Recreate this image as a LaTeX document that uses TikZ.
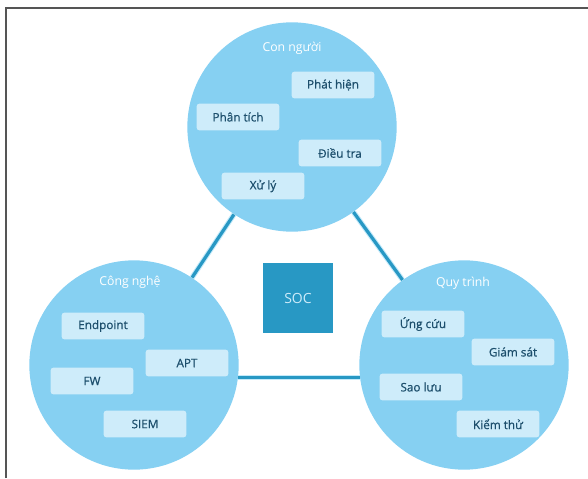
\documentclass[tikz,border=0pt]{standalone}
\usepackage{fontspec}
\setmainfont{Open Sans}
\newfontfamily\tagfont{Open Sans}[FakeBold=0.7]
\usetikzlibrary{positioning}
\definecolor{socblue}{RGB}{40,152,196}
\definecolor{ballblue}{RGB}{134,208,242}
\definecolor{tagfill}{RGB}{206,236,250}
\definecolor{tagtext}{RGB}{28,78,108}
\definecolor{linkglow}{RGB}{196,234,250}
\definecolor{framegray}{RGB}{85,85,85}
\tikzset{
  ball/.style  = {circle, fill=ballblue, minimum size=157pt, inner sep=0pt},
  title/.style = {text=white, font=\fontsize{9.2}{11}\selectfont},
  tag/.style   = {fill=tagfill, rounded corners=2pt, minimum width=62pt, minimum height=20pt, inner sep=0pt, text=tagtext, font=\tagfont\fontsize{8.8}{10}\selectfont},
  link/.style  = {line width=2.4pt, draw=socblue},
  glow/.style  = {line width=4pt, draw=linkglow},
}

\begin{document}
\begin{tikzpicture}[x=0.75pt, y=-0.75pt]
  \useasboundingbox (0,0) rectangle (588,478);
  \draw[framegray, line width=0.8pt] (6,478) -- (6,8) -- (588,8);
  % three circles
  \node[ball] (people)  at (292,127) {};
  \node[ball] (tech)    at (134,365) {};
  \node[ball] (process) at (464,365) {};
  % links
  \draw[glow, shift={(2.5,1.7)}] (people) -- (tech);
  \draw[glow, shift={(-2.3,1.9)}] (people) -- (process);
  \draw[glow, shift={(0,5)}] (tech.-7) -- (process.187);
  \draw[link] (people) -- (tech);
  \draw[link] (people) -- (process);
  \draw[link] (tech.-7) -- (process.187);
  % centre
  \node[fill=socblue, minimum size=53pt, inner sep=0pt, text=tagfill, font=\fontsize{10.5}{12}\selectfont] (soc) at (298,298) {SOC};
  % Con nguoi
  \node[title] (peopletitle) at (292,48) {Con người};
  \node[tag] (detect)  at (333,85)  {Phát hiện};
  \node[tag] (analyse) at (238,117) {Phân tích};
  \node[tag] (probe)   at (340,153) {Điều tra};
  \node[tag] (handle)  at (263,186) {Xử lý};
  % Cong nghe
  \node[title] (techtitle) at (130,282) {Công nghệ};
  \node[tag] (endpoint) at (103,326) {Endpoint};
  \node[tag] (apt)      at (187,363) {APT};
  \node[tag] (fw)       at (92,381)  {FW};
  \node[tag] (siem)     at (145,424) {SIEM};
  % Quy trinh
  \node[title] (processtitle) at (463,283) {Quy trình};
  \node[tag] (respond) at (423,324) {Ứng cứu};
  \node[tag] (monitor) at (513,352) {Giám sát};
  \node[tag] (backup)  at (421,387) {Sao lưu};
  \node[tag] (testing) at (498,424) {Kiểm thử};
\end{tikzpicture}
\end{document}
